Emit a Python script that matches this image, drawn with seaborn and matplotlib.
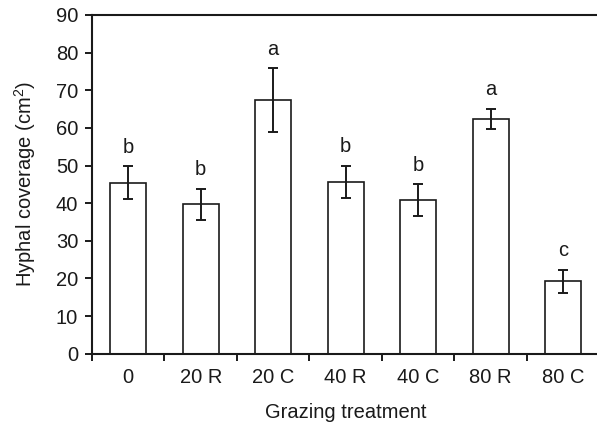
import pandas as pd
import matplotlib
matplotlib.use("Agg")
import matplotlib.pyplot as plt
import seaborn as sns
from matplotlib.ticker import FixedLocator

# data
treatments = ["0", "20 R", "20 C", "40 R", "40 C", "80 R", "80 C"]
coverage = [45.4, 39.7, 67.4, 45.6, 40.8, 62.4, 19.2]
errors = [4.4, 4.1, 8.4, 4.3, 4.2, 2.7, 3.1]
letters = ["b", "b", "a", "b", "b", "a", "c"]

sns.set_theme(style="white")
plt.rcParams["font.family"] = ["Liberation Sans", "DejaVu Sans"]
plt.rcParams["mathtext.fontset"] = "custom"
plt.rcParams["mathtext.rm"] = "Liberation Sans"
plt.rcParams["mathtext.it"] = "Liberation Sans:italic"
plt.rcParams["mathtext.default"] = "regular"

df = pd.DataFrame({"treatment": treatments, "coverage": coverage})
fs = 14.5

fig = plt.figure(figsize=(5.97, 4.24), dpi=100)
ax = fig.add_axes([92 / 597, 1 - 353.7 / 424, 1 - 92 / 597 + 0.004, (353.7 - 15) / 424])

sns.barplot(data=df, x="treatment", y="coverage", color="white", edgecolor="#1a1a1a",
            linewidth=1.2, width=0.5, errorbar=None, ax=ax)
ax.errorbar(range(len(treatments)), coverage, yerr=errors, fmt="none",
            ecolor="#1a1a1a", elinewidth=1.4, capsize=3.5, capthick=1.4)

# significance letters
for i, (v, e, l) in enumerate(zip(coverage, errors, letters)):
    ax.text(i, v + e + 2.6, l, ha="center", va="bottom", fontsize=fs, color="#1a1a1a")

ax.set_ylim(0, 90)
ax.set_xlim(-0.5, 6.5)
ax.set_yticks(range(0, 91, 10))

ax.spines["right"].set_visible(False)
for s in ["left", "bottom", "top"]:
    ax.spines[s].set_linewidth(1.5)
    ax.spines[s].set_color("#1a1a1a")

ax.tick_params(axis="y", direction="out", length=5, width=1.4, pad=5,
               labelsize=fs, left=True, colors="#1a1a1a")
ax.tick_params(axis="x", which="major", length=0, pad=10.5, labelsize=fs, colors="#1a1a1a")
ax.xaxis.set_minor_locator(FixedLocator([k - 0.5 for k in range(len(treatments))]))
ax.tick_params(axis="x", which="minor", direction="out", length=5, width=1.4,
               bottom=True, color="#1a1a1a")

ax.set_xlabel("Grazing treatment", fontsize=fs, labelpad=11, color="#1a1a1a")
ax.set_ylabel("Hyphal coverage (cm$^{2}$)", fontsize=fs, labelpad=13, color="#1a1a1a")

fig.savefig("out.png", dpi=100)
